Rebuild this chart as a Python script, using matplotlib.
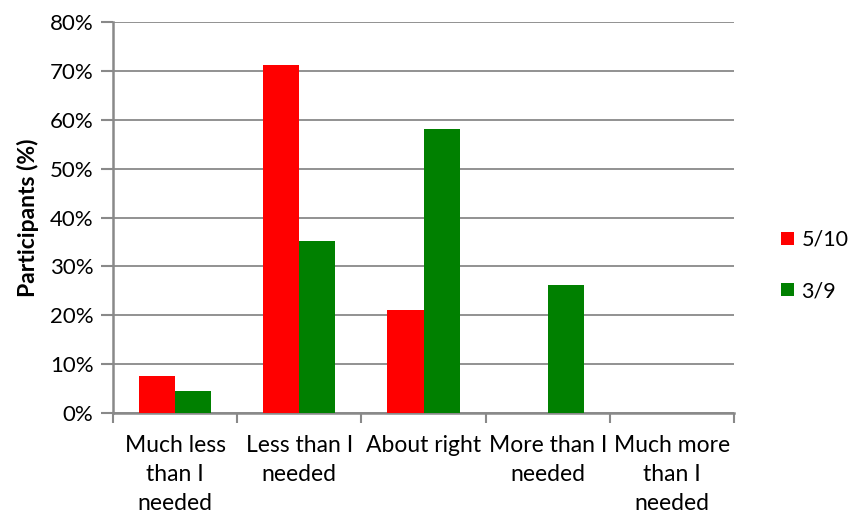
import numpy as np
import matplotlib
matplotlib.use('Agg')
import matplotlib.pyplot as plt
from matplotlib.ticker import FuncFormatter

categories = ['Much less\nthan I\nneeded', 'Less than I\nneeded', 'About right',
              'More than I\nneeded', 'Much more\nthan I\nneeded']
series_names = ['5/10', '3/9']
values_5_10 = [7.6, 71.2, 21.1, 0, 0]
values_3_9 = [4.4, 35.2, 58.2, 26.2, 0]
colors = ['#ff0000', '#008000']
y_ticks = [0, 10, 20, 30, 40, 50, 60, 70, 80]

plt.rcParams['font.family'] = ['Lato', 'DejaVu Sans']
grey = '#898989'

fig = plt.figure(figsize=(8.52, 5.19), dpi=100)
ax = fig.add_axes([113 / 852, 1 - 413 / 519, 621 / 852, 391 / 519])

x = np.arange(len(categories))
w = 0.29
ax.bar(x - w / 2, values_5_10, w, color=colors[0], label=series_names[0], zorder=3)
ax.bar(x + w / 2, values_3_9, w, color=colors[1], label=series_names[1], zorder=3)

ax.set_xlim(-0.5, len(categories) - 0.5)
ax.set_ylim(0, 80)
ax.set_yticks(y_ticks)
ax.yaxis.set_major_formatter(FuncFormatter(lambda v, p: f'{v:.0f}%'))
ax.grid(axis='y', color=grey, linewidth=1.3, zorder=0)

# category boundaries as ticks, labels at centres
ax.set_xticks(np.arange(len(categories) + 1) - 0.5)
ax.set_xticklabels([])
ax.set_xticks(x, minor=True)
ax.set_xticklabels(categories, minor=True, fontsize=16.5, linespacing=1.45, va='top')
ax.tick_params(axis='x', which='major', length=7, width=1.5, color=grey)
ax.tick_params(axis='x', which='minor', length=0, pad=16)
ax.tick_params(axis='y', length=9, width=1.5, color=grey, labelsize=16, pad=5)

for s in ['top', 'right']:
    ax.spines[s].set_visible(False)
for s in ['left', 'bottom']:
    ax.spines[s].set_color(grey)
    ax.spines[s].set_linewidth(1.8)

ax.set_ylabel('Participants (%)', fontsize=16.5, fontweight='bold', labelpad=8)

fig.legend(loc='upper left', bbox_to_anchor=(781 / 852, 1 - 230 / 519), frameon=False,
           fontsize=15.5, handlelength=0.6, handleheight=0.6, handletextpad=0.35,
           labelspacing=1.45, borderaxespad=0, borderpad=0)

fig.savefig('out.png', dpi=100)
